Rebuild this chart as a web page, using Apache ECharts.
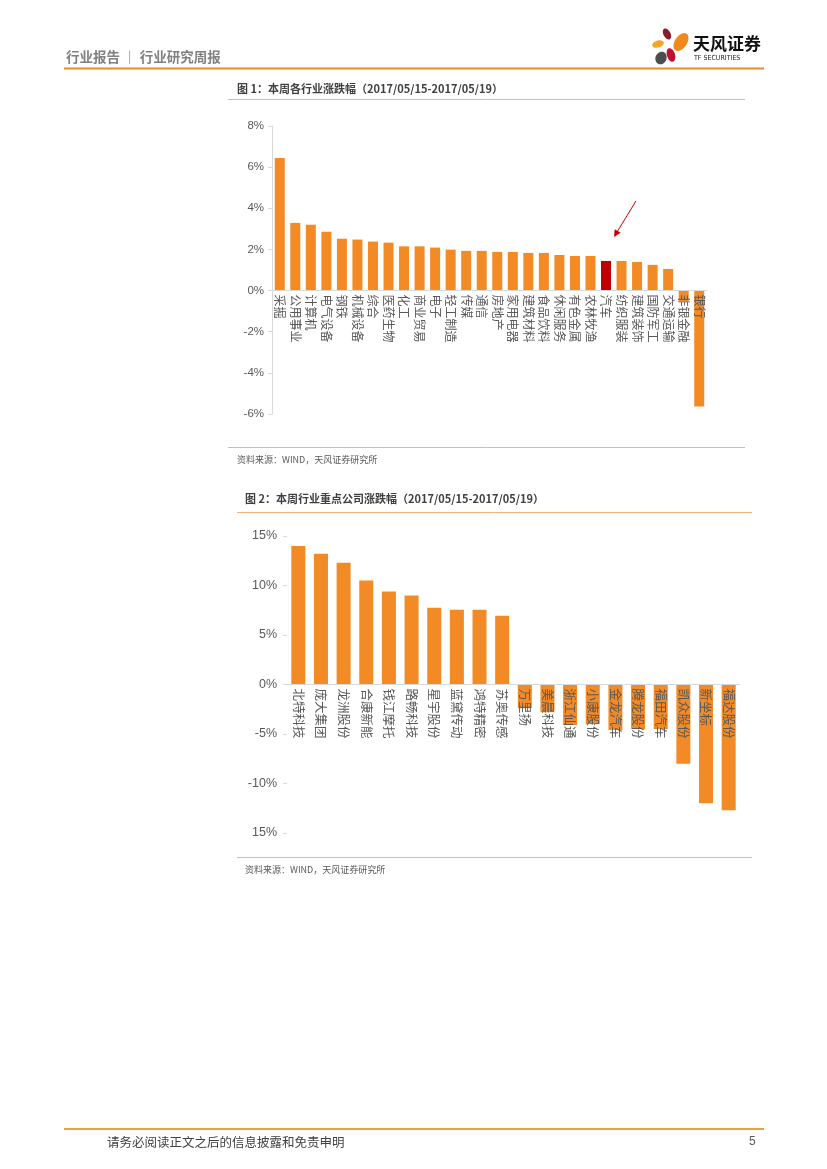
<!DOCTYPE html>
<html><head><meta charset="utf-8">
<script src="https://cdn.jsdelivr.net/npm/echarts@6/dist/echarts.min.js"></script>
<style>html,body{margin:0;padding:0;background:#fff}#c{width:827px;height:1169px}</style>
</head><body><div id="c"></div>
<script>
// Figure 1: weekly industry returns (%)
const industries = ['采掘','公用事业','计算机','电气设备','钢铁','机械设备','综合','医药生物','化工','商业贸易','电子','轻工制造','传媒','通信','房地产','家用电器','建筑材料','食品饮料','休闲服务','有色金属','农林牧渔','汽车','纺织服装','建筑装饰','国防军工','交通运输','非银金融','银行'];
const industryChange = [6.44,3.29,3.2,2.86,2.52,2.48,2.38,2.33,2.15,2.15,2.09,1.99,1.93,1.93,1.88,1.88,1.83,1.83,1.73,1.68,1.68,1.44,1.44,1.39,1.25,1.05,-0.53,-5.63];
const highlightIndustry = '汽车';
const yTicks1 = ['-6%','-4%','-2%','0%','2%','4%','6%','8%'];

// Figure 2: key company returns (%)
const companies = ['北特科技','庞大集团','龙洲股份','合康新能','钱江摩托','路畅科技','星宇股份','蓝黛传动','鸿特精密','苏奥传感','万里扬','美晨科技','浙江仙通','小康股份','金龙汽车','腾龙股份','福田汽车','凯众股份','新坐标','福达股份'];
const companyChange = [14.0,13.2,12.3,10.5,9.4,9.0,7.75,7.55,7.55,6.95,-2.4,-2.8,-4.1,-4.0,-4.6,-4.5,-4.5,-8.0,-12.0,-12.7];
const yTicks2 = ['15%','-10%','-5%','0%','5%','10%','15%'];

const ORANGE = '#F28A25', RED = '#C00000', LBL = '#595959';
const FF = '"Liberation Sans","Noto Sans CJK SC",sans-serif';
const CJK = '"Noto Sans CJK SC",sans-serif';

const chart = echarts.init(document.getElementById('c'), null, {renderer:'canvas'});

const hline = (x1,x2,y,color,w) => ({type:'line',shape:{x1:x1,y1:y,x2:x2,y2:y},style:{stroke:color,lineWidth:w}});
const txt = (x,y,t,opt) => ({type:'text',x:x,y:y,style:Object.assign({text:t,fill:'#404040',font:'12px '+CJK,textVerticalAlign:'middle'},opt||{})});

const graphics = [
  txt(66,57,'行业报告 ｜ 行业研究周报',{fill:'#808080',font:'bold 13.5px '+CJK}),
  hline(64,764,68.5,'#E98B2A',2),
  // logo petals
  {type:'ellipse',shape:{cx:667,cy:34,rx:3.5,ry:6},rotation:0.5,originX:667,originY:34,style:{fill:'#8B1A2B'}},
  {type:'ellipse',shape:{cx:681,cy:42,rx:6,ry:10},rotation:-0.6,originX:681,originY:42,style:{fill:'#F08A1C'}},
  {type:'ellipse',shape:{cx:658,cy:44,rx:6,ry:3.5},rotation:0.3,originX:658,originY:44,style:{fill:'#F5A623'}},
  {type:'ellipse',shape:{cx:671,cy:55,rx:4,ry:7},rotation:0.3,originX:671,originY:55,style:{fill:'#C0102E'}},
  {type:'ellipse',shape:{cx:661,cy:58,rx:5.5,ry:6.5},rotation:-0.4,originX:661,originY:58,style:{fill:'#4D4D4D'}},
  txt(693,44,'天风证券',{fill:'#111',font:'bold 17px '+CJK}),
  txt(694,58,'TF SECURITIES',{fill:'#222',font:'7px "DejaVu Sans Condensed","Liberation Sans Narrow",sans-serif'}),
  // figure 1 frame
  txt(237,89,'图 1：本周各行业涨跌幅（2017/05/15-2017/05/19）',{font:'bold 11px '+CJK}),
  hline(228,745,99.5,'#F4B183',1),
  hline(228,745,447.5,'#F4B183',1),
  txt(237,460,'资料来源：WIND，天风证券研究所',{fill:'#595959',font:'9px '+CJK}),
  // figure 2 frame
  txt(245,499,'图 2：本周行业重点公司涨跌幅（2017/05/15-2017/05/19）',{font:'bold 11px '+CJK}),
  hline(237,752,512.5,'#F4B183',1),
  hline(237,752,857.5,'#F4B183',1),
  txt(245,870,'资料来源：WIND，天风证券研究所',{fill:'#595959',font:'9px '+CJK}),
  // footer
  hline(64,764,1129,'#E9A23B',2),
  txt(107,1142,'请务必阅读正文之后的信息披露和免责申明',{fill:'#404040',font:'12.5px '+CJK}),
  txt(749,1142,'5',{fill:'#595959',font:'12px '+FF})
];

const grids = [
  {left:272,top:126,width:435,height:288},
  {left:287,top:536,width:453,height:297}
];

function buildOption(off0, off1){
  return {
    animation:false,
    grid:grids,
    xAxis:[
      {type:'category',gridIndex:0,data:industries,offset:off0,z:10,
       axisLine:{onZero:false,lineStyle:{color:'#d9d9d9'}},axisTick:{show:false},
       axisLabel:{interval:0,rotate:-90,color:LBL,fontSize:12,fontFamily:CJK,margin:4}},
      {type:'category',gridIndex:1,data:companies,offset:off1,z:10,
       axisLine:{onZero:false,lineStyle:{color:'#d9d9d9'}},axisTick:{show:false},
       axisLabel:{interval:0,rotate:-90,color:LBL,fontSize:12.5,fontFamily:CJK,margin:4}}
    ],
    yAxis:[
      {type:'value',gridIndex:0,min:-6,max:8,interval:2,
       axisLine:{show:true,lineStyle:{color:'#d9d9d9'}},axisTick:{show:true,length:4,lineStyle:{color:'#d9d9d9'}},
       splitLine:{show:false},
       axisLabel:{color:LBL,fontSize:11.5,fontFamily:FF,margin:8,formatter:v=>yTicks1[Math.round((v+6)/2)]}},
      {type:'value',gridIndex:1,min:-15,max:15,interval:5,
       axisLine:{show:false},axisTick:{show:true,length:4,lineStyle:{color:'#d9d9d9'}},
       splitLine:{show:false},
       axisLabel:{color:LBL,fontSize:12.5,fontFamily:FF,margin:10,formatter:v=>yTicks2[Math.round((v+15)/5)]}}
    ],
    series:[
      {type:'bar',xAxisIndex:0,yAxisIndex:0,barWidth:10,z:2,
       data:industryChange.map((v,i)=>({value:v,itemStyle:{color:industries[i]===highlightIndustry?RED:ORANGE}}))},
      {type:'bar',xAxisIndex:1,yAxisIndex:1,barWidth:14,z:2,itemStyle:{color:ORANGE},data:companyChange}
    ],
    graphic:graphics
  };
}

chart.setOption(buildOption(0,0));
// move each category axis (line + labels) up to the zero value
const z0 = chart.convertToPixel({yAxisIndex:0},0);
const z1 = chart.convertToPixel({yAxisIndex:1},0);
const off0 = z0 - (grids[0].top + grids[0].height);
const off1 = z1 - (grids[1].top + grids[1].height);

// annotation arrow pointing at highlighted bar
const hi = industries.indexOf(highlightIndustry);
const p = chart.convertToPixel({gridIndex:0},[hi, industryChange[hi]]);
const tip = [p[0]+8, p[1]-24], tail = [p[0]+30, p[1]-60];
const ang = Math.atan2(tip[1]-tail[1], tip[0]-tail[0]);
const ah = 7, aw = 3.5;
const bx = tip[0]-ah*Math.cos(ang), by = tip[1]-ah*Math.sin(ang);
graphics.push({type:'line',shape:{x1:tail[0],y1:tail[1],x2:bx,y2:by},style:{stroke:RED,lineWidth:1}});
graphics.push({type:'polygon',shape:{points:[tip,[bx+aw*Math.sin(ang),by-aw*Math.cos(ang)],[bx-aw*Math.sin(ang),by+aw*Math.cos(ang)]]},style:{fill:RED}});
chart.setOption(buildOption(off0, off1), true);
</script></body></html>
